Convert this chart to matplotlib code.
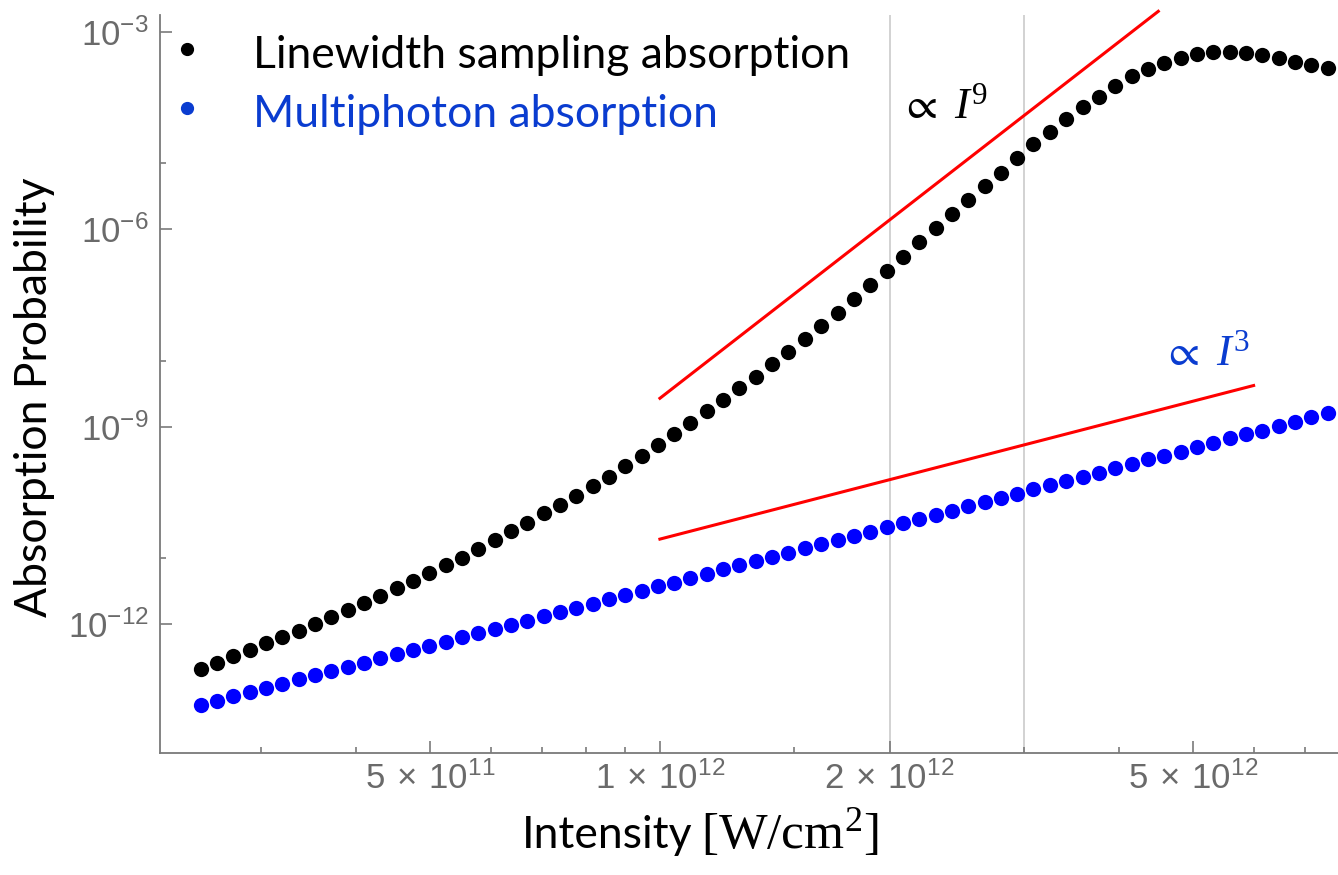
import numpy as np
import matplotlib
matplotlib.use("Agg")
import matplotlib.pyplot as plt
from matplotlib.ticker import FixedLocator, FixedFormatter, NullFormatter

plt.rcParams['mathtext.fontset'] = 'custom'
plt.rcParams['mathtext.rm'] = 'Liberation Serif'
plt.rcParams['mathtext.it'] = 'Liberation Serif:italic'
plt.rcParams['mathtext.sf'] = 'Liberation Sans'
plt.rcParams['mathtext.fallback'] = 'stix'

# intensity samples, in units of 1e12 W/cm^2
intensity = [0.2500, 0.2626, 0.2759, 0.2899, 0.3046, 0.3199, 0.3361, 0.3531, 0.3709, 0.3897,
             0.4093, 0.4300, 0.4517, 0.4746, 0.4986, 0.5238, 0.5502, 0.5780, 0.6072, 0.6379,
             0.6701, 0.7040, 0.7396, 0.7770, 0.8162, 0.8574, 0.9007, 0.9461, 0.9938, 1.0440,
             1.0967, 1.1521, 1.2103, 1.2714, 1.3357, 1.4031, 1.4741, 1.5488, 1.6271, 1.7093,
             1.7957, 1.8864, 1.9815, 2.0816, 2.1868, 2.2973, 2.4134, 2.5352, 2.6634, 2.7980,
             2.9393, 3.0877, 3.2434, 3.4083, 3.5807, 3.7616, 3.9517, 4.1513, 4.3610, 4.5814,
             4.8129, 5.0561, 5.3114, 5.5798, 5.8617, 6.1580, 6.4691, 6.7960, 7.1394, 7.5000]

# log10 of absorption probability
linewidth_log = [-12.69, -12.59, -12.49, -12.39, -12.29, -12.20, -12.10, -12.00, -11.89, -11.78,
                 -11.68, -11.57, -11.46, -11.35, -11.23, -11.11, -10.99, -10.86, -10.73, -10.59,
                 -10.46, -10.32, -10.19, -10.05, -9.91, -9.76, -9.60, -9.44, -9.28, -9.12,
                 -8.95, -8.77, -8.59, -8.42, -8.24, -8.05, -7.86, -7.67, -7.47, -7.27,
                 -7.06, -6.85, -6.64, -6.42, -6.20, -5.98, -5.77, -5.55, -5.34, -5.14,
                 -4.92, -4.71, -4.52, -4.33, -4.15, -3.99, -3.83, -3.68, -3.57, -3.47,
                 -3.40, -3.34, -3.31, -3.31, -3.33, -3.36, -3.40, -3.46, -3.51, -3.55]

multiphoton_log = [-13.23, -13.17, -13.10, -13.04, -12.97, -12.91, -12.84, -12.78, -12.72, -12.65,
                   -12.59, -12.52, -12.46, -12.40, -12.33, -12.27, -12.20, -12.14, -12.07, -12.01,
                   -11.95, -11.88, -11.82, -11.75, -11.69, -11.62, -11.56, -11.50, -11.43, -11.37,
                   -11.30, -11.24, -11.17, -11.11, -11.05, -10.98, -10.92, -10.85, -10.79, -10.73,
                   -10.66, -10.60, -10.53, -10.47, -10.40, -10.34, -10.28, -10.21, -10.15, -10.08,
                   -10.02, -9.95, -9.89, -9.83, -9.76, -9.70, -9.63, -9.57, -9.50, -9.44,
                   -9.38, -9.31, -9.25, -9.18, -9.12, -9.06, -8.99, -8.93, -8.86, -8.80]

# guide lines  (I^9 and I^3)
guide9_x = [1.0e12, 4.5e12]
guide9_y = [10 ** -8.57, 10 ** -2.69]
guide3_x = [1.0e12, 6.0e12]
guide3_y = [10 ** -10.71, 10 ** -8.376]

x_major = [5e11, 1e12, 2e12, 5e12]
x_major_labels = [r'$\mathsf{5\;\times\;10^{11}}$', r'$\mathsf{1\;\times\;10^{12}}$',
                  r'$\mathsf{2\;\times\;10^{12}}$', r'$\mathsf{5\;\times\;10^{12}}$']
x_minor = [3e11, 4e11, 6e11, 7e11, 8e11, 9e11, 1.5e12, 3e12, 4e12, 6e12, 7e12]
y_major = [1e-12, 1e-9, 1e-6, 1e-3]
y_major_labels = [r'$\mathsf{10^{-12}}$', r'$\mathsf{10^{-9}}$', r'$\mathsf{10^{-6}}$', r'$\mathsf{10^{-3}}$']
y_minor = [1e-11, 1e-8, 1e-5]
grid_x = [2e12, 3e12]

W, H = 1338, 875
fig = plt.figure(figsize=(W / 100, H / 100), dpi=100)
ax = fig.add_axes([160 / W, 1 - 753 / H, 1 - 160 / W, (753 - 15) / H])

I = np.array(intensity) * 1e12
for gx in grid_x:
    ax.axvline(gx, color='#cfcfcf', lw=1.3, zorder=0)
ax.plot(I, 10 ** np.array(linewidth_log), 'o', color='black', ms=11, mec='none', zorder=3)
ax.plot(I, 10 ** np.array(multiphoton_log), 'o', color='#0000ff', ms=11, mec='none', zorder=3)
ax.plot(guide9_x, guide9_y, color='#ff0000', lw=2.2, clip_on=False, zorder=2)
ax.plot(guide3_x, guide3_y, color='#ff0000', lw=2.2, clip_on=False, zorder=2)

ax.set_xscale('log')
ax.set_yscale('log')
ax.set_xlim(2.212e11, 7.74e12)
ax.set_ylim(10 ** -13.96, 10 ** -2.746)

ax.xaxis.set_major_locator(FixedLocator(x_major))
ax.xaxis.set_major_formatter(FixedFormatter(x_major_labels))
ax.xaxis.set_minor_locator(FixedLocator(x_minor))
ax.xaxis.set_minor_formatter(NullFormatter())
ax.yaxis.set_major_locator(FixedLocator(y_major))
ax.yaxis.set_major_formatter(FixedFormatter(y_major_labels))
ax.yaxis.set_minor_locator(FixedLocator(y_minor))
ax.yaxis.set_minor_formatter(NullFormatter())

gray = '#7a7a7a'
for s in ['top', 'right']:
    ax.spines[s].set_visible(False)
for s in ['left', 'bottom']:
    ax.spines[s].set_color(gray)
    ax.spines[s].set_linewidth(1.3)
ax.tick_params(which='major', direction='in', length=8.5, width=1.2, color=gray,
               labelcolor='#6a6a6a', labelsize=25)
ax.tick_params(which='minor', direction='in', length=4.5, width=1.2, color=gray)
ax.tick_params(axis='x', which='major', pad=6)
ax.tick_params(axis='y', which='major', pad=8)

# legend
blue_txt = '#0a3cd0'
ax.plot([187 / W], [1 - 49 / H], 'o', color='black', ms=8.5, transform=fig.transFigure, clip_on=False)
ax.plot([187 / W], [1 - 108 / H], 'o', color=blue_txt, ms=8.5, transform=fig.transFigure, clip_on=False)
fig.text(253 / W, 1 - 68 / H, 'Linewidth sampling absorption', family='Lato', fontsize=32,
         color='black', va='baseline')
fig.text(253 / W, 1 - 127 / H, 'Multiphoton absorption', family='Lato', fontsize=32,
         color=blue_txt, va='baseline')

# guide labels
fig.text(900 / W, 1 - 118 / H, r'$\propto\ I^{9}$', fontsize=32, color='black', va='baseline')
fig.text(1162 / W, 1 - 365 / H, r'$\propto\ I^{3}$', fontsize=32, color=blue_txt, va='baseline')

# axis labels
fig.text(692 / W, 1 - 848 / H, 'Intensity', family='Lato', fontsize=32,
         ha='right', va='baseline')
fig.text(701 / W, 1 - 848 / H, r'$[\mathrm{W/cm}^{2}]$', fontsize=37,
         ha='left', va='baseline')
fig.text(35 / W, 1 - 397 / H, 'Absorption Probability', family='Lato', fontsize=32,
         rotation=90, ha='center', va='center')

fig.savefig('out.png', dpi=100)
